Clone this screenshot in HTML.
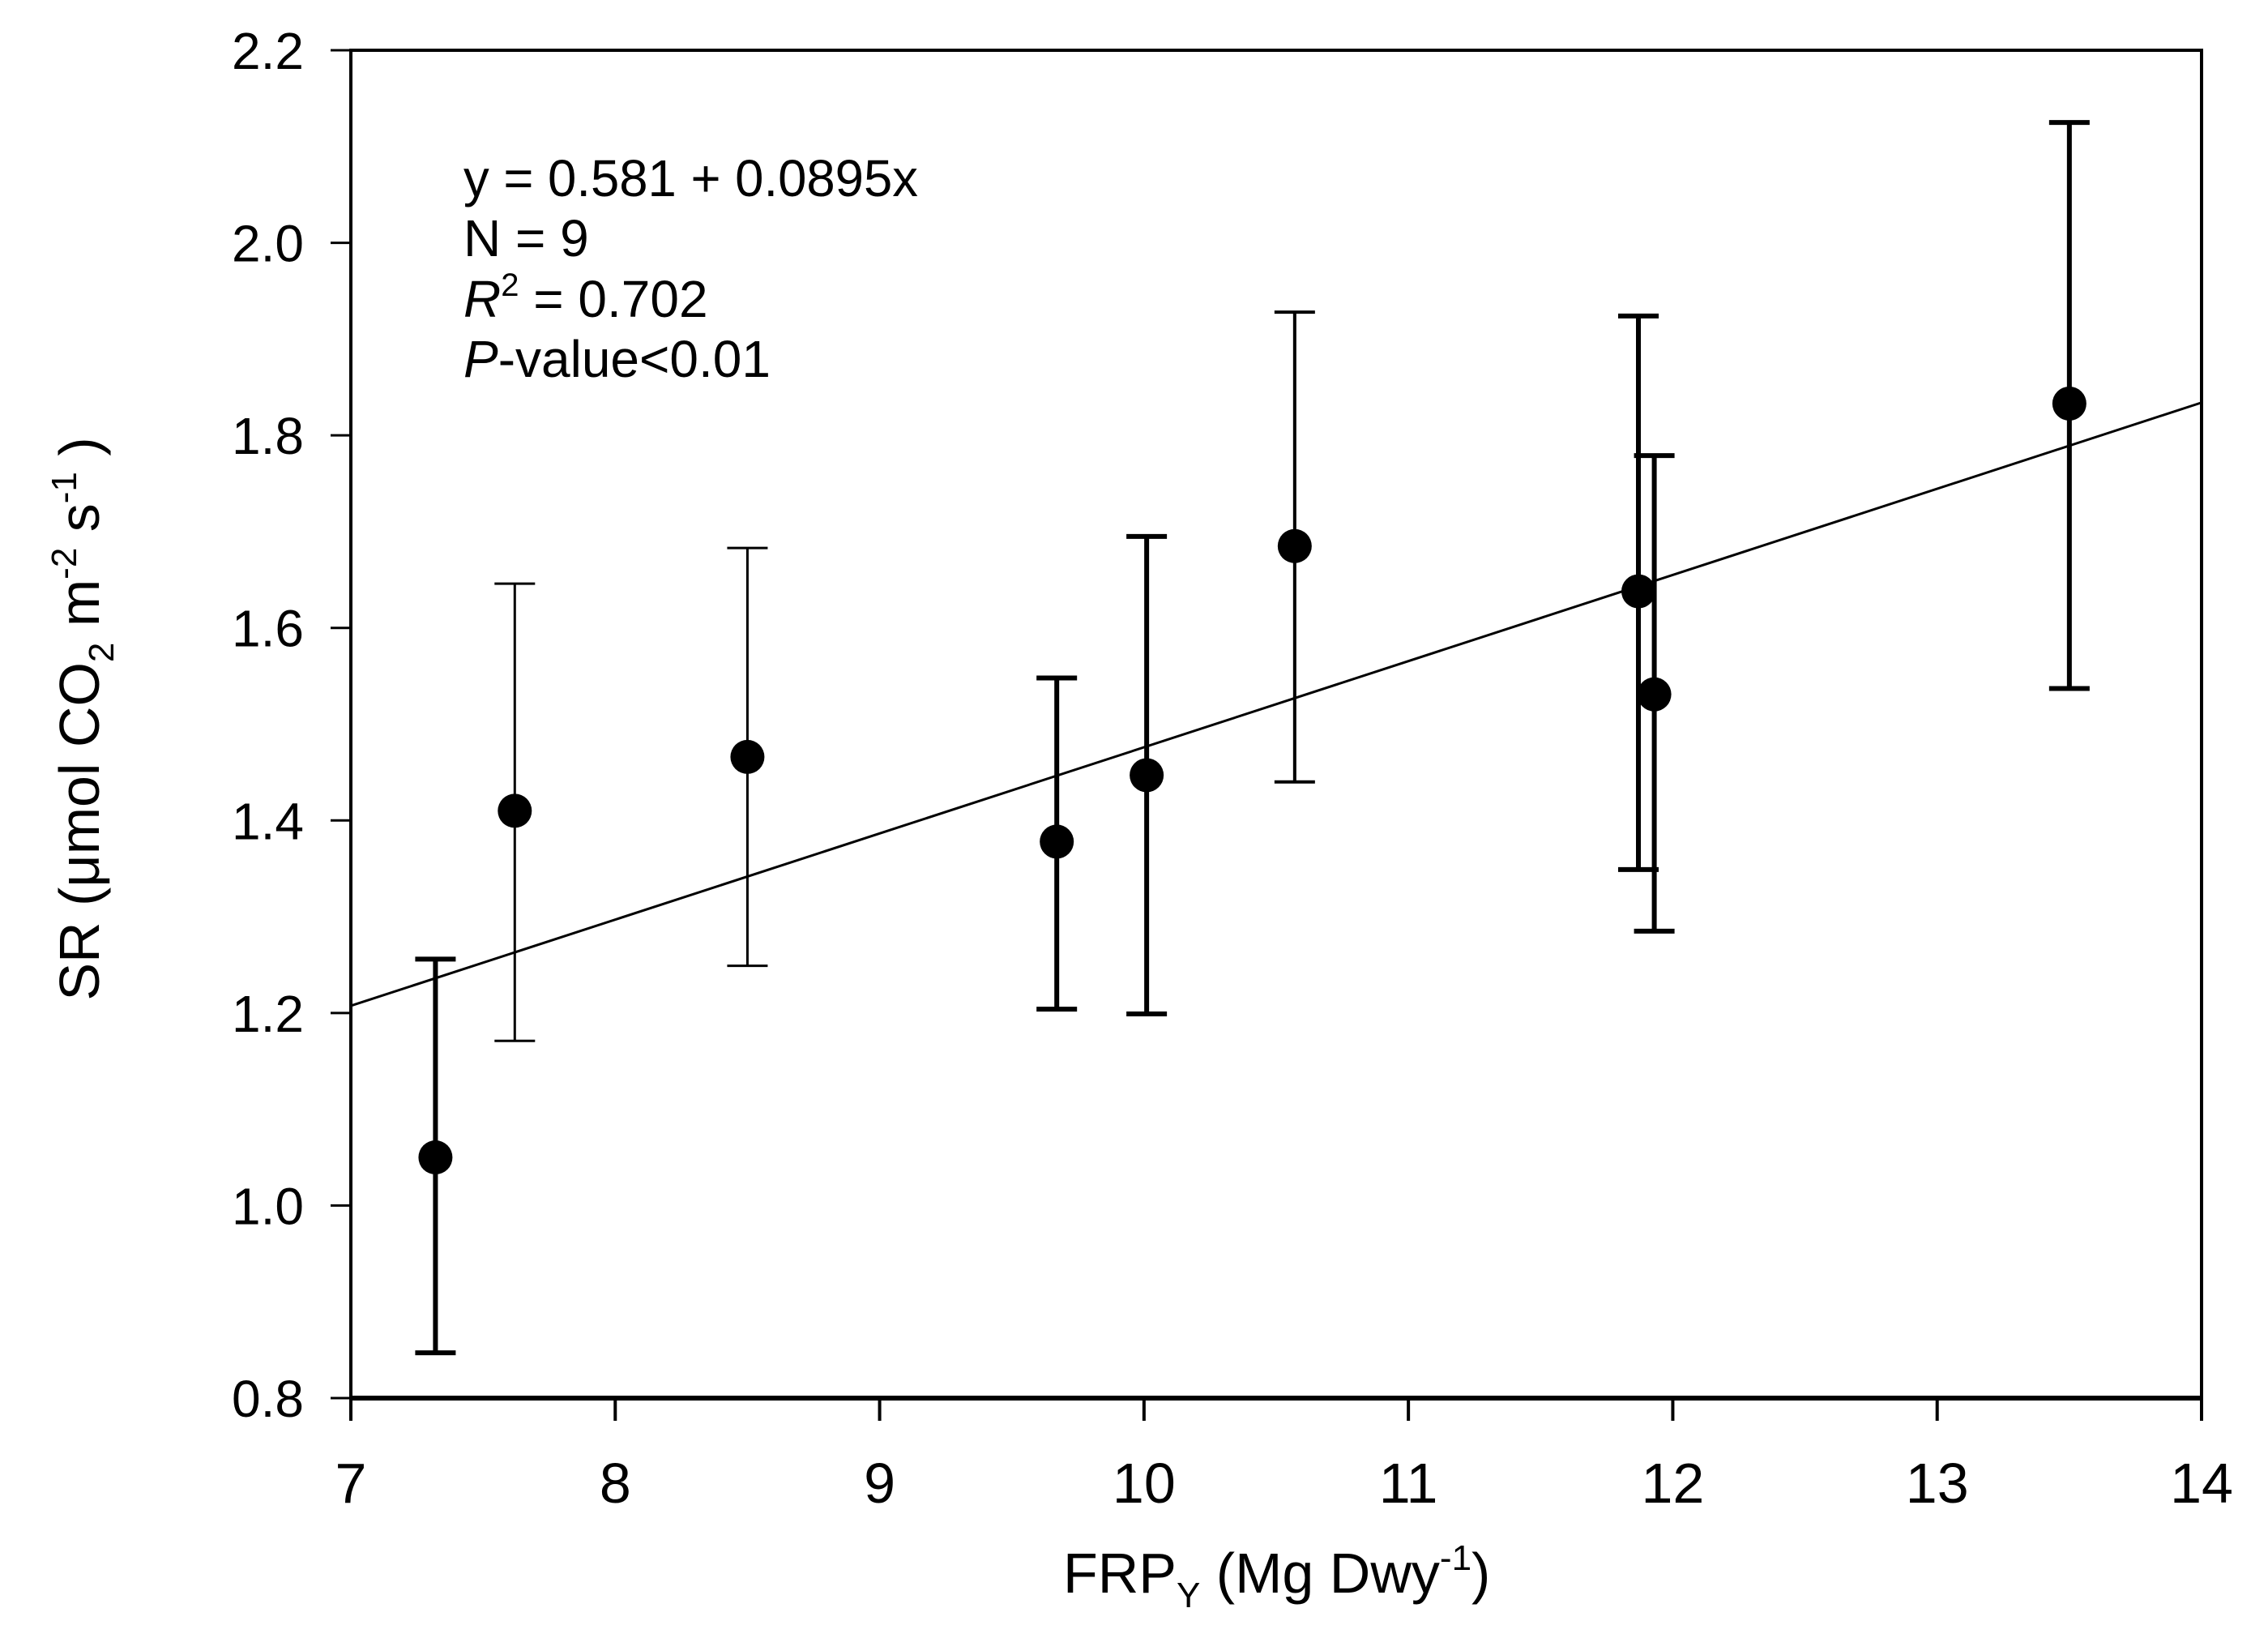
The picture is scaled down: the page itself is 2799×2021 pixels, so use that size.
<!DOCTYPE html>
<html><head><meta charset="utf-8"><style>
html,body{margin:0;padding:0;background:#fff;}
svg{display:block;font-family:"Liberation Sans",Arial,sans-serif;}
</style></head><body>
<svg id="chart" width="2799" height="2021" viewBox="0 0 2799 2021">
  <g id="plot"></g>
  <text x="572" y="242" font-size="64" textLength="561" lengthAdjust="spacingAndGlyphs">y = 0.581 + 0.0895x</text>
  <text x="572" y="316" font-size="64">N  = 9</text>
  <text x="572" y="391" font-size="64"><tspan font-style="italic">R</tspan><tspan font-size="40" dy="-26">2</tspan><tspan dy="26"> = 0.702</tspan></text>
  <text x="572" y="465" font-size="64"><tspan font-style="italic">P</tspan>-value&lt;0.01</text>
  <text x="1312" y="1965" font-size="70">FRP<tspan font-size="44" dy="18">Y</tspan><tspan dy="-18"> (Mg Dwy</tspan><tspan font-size="44" dy="-28">-1</tspan><tspan dy="28">)</tspan></text>
  <text transform="translate(122,887) rotate(-90)" text-anchor="middle" font-size="70">SR (μmol CO<tspan font-size="44" dy="18">2</tspan><tspan dy="-18"> m</tspan><tspan font-size="44" dy="-28">-2</tspan><tspan dy="28"> s</tspan><tspan font-size="44" dy="-28">-1</tspan><tspan dy="28"> )</tspan></text>
</svg>
<script>
const xValues = [7.32, 7.62, 8.50, 9.67, 10.01, 10.57, 11.87, 11.93, 13.50];
const yValues = [1.05, 1.41, 1.466, 1.378, 1.447, 1.685, 1.638, 1.531, 1.833];
const errUpper = [1.256, 1.646, 1.683, 1.548, 1.695, 1.928, 1.924, 1.779, 2.125];
const errLower = [0.847, 1.171, 1.249, 1.204, 1.199, 1.440, 1.349, 1.285, 1.537];
const errThick = [6, 3, 3, 6, 6, 4, 6, 6, 6];
const xTicks = [7, 8, 9, 10, 11, 12, 13, 14];
const yTicks = [0.8, 1.0, 1.2, 1.4, 1.6, 1.8, 2.0, 2.2];
const intercept = 0.581;
const slope = 0.0895;

const X0 = 433, X1 = 2717, Y0 = 1725, Y1 = 62;
function sx(v){ return X0 + (v - 7) / 7 * (X1 - X0); }
function sy(v){ return Y0 - (v - 0.8) / 1.4 * (Y0 - Y1); }
const NS = "http://www.w3.org/2000/svg";
const g = document.getElementById('plot');
function mk(tag, attrs){ const e = document.createElementNS(NS, tag); for (const k in attrs) e.setAttribute(k, attrs[k]); g.appendChild(e); return e; }

// frame
let fr = mk('rect', {x: X0, y: Y1, width: X1 - X0, height: Y0 - Y1, fill: 'none', stroke: '#000', 'stroke-width': 4});


let bx = mk('line', {x1: X0, y1: Y0, x2: X1, y2: Y0, stroke: '#000', 'stroke-width': 6});



xTicks.forEach(t => {
  const x = sx(t);
  const tk = mk('line', {x1: x, y1: Y0, x2: x, y2: Y0 + 28, stroke: '#000', 'stroke-width': 4});
  
  
  const lb = mk('text', {x: x, y: 1854, 'font-size': 70, 'text-anchor': 'middle'});
  lb.textContent = String(t);
  
  
});
yTicks.forEach(t => {
  const y = sy(t);
  const tk = mk('line', {x1: X0 - 25, y1: y, x2: X0, y2: y, stroke: '#000', 'stroke-width': 3});
  
  
  const lb = mk('text', {x: 375, y: y + 23, 'font-size': 64, 'text-anchor': 'end'});
  lb.textContent = t.toFixed(1);
  
  
});

// regression line
const rl = mk('line', {x1: sx(7), y1: sy(intercept + slope * 7), x2: sx(14), y2: sy(intercept + slope * 14), stroke: '#000', 'stroke-width': 3});



xValues.forEach((xv, i) => {
  const x = sx(xv), w = errThick[i];
  const eb = mk('path', {d: `M${x},${sy(errUpper[i])}V${sy(errLower[i])}M${x-25},${sy(errUpper[i])}H${x+25}M${x-25},${sy(errLower[i])}H${x+25}`, stroke: '#000', 'stroke-width': w, fill: 'none'});
  
  
  const c = mk('circle', {cx: x, cy: sy(yValues[i]), r: 21, fill: '#000'});
  
  
});
</script>
</body></html>
